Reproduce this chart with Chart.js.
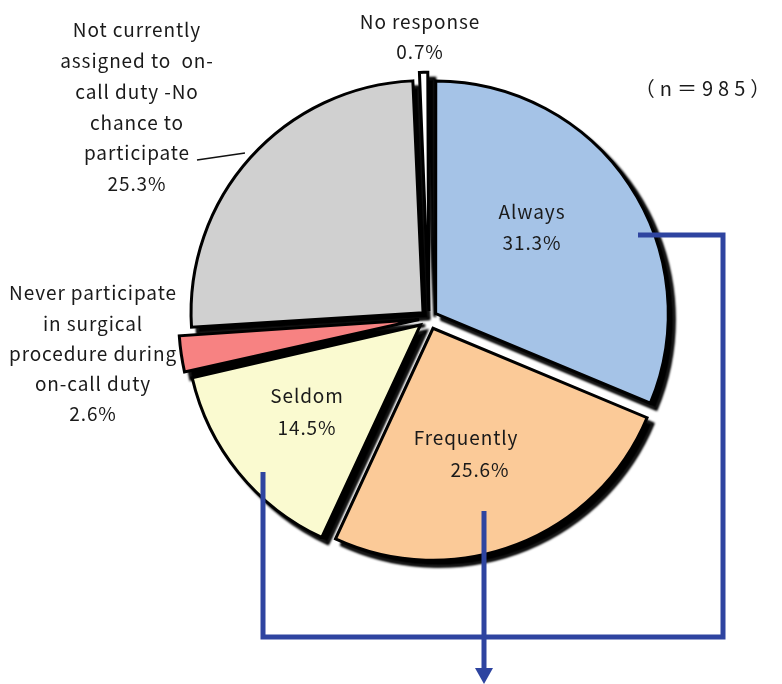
<!DOCTYPE html>
<html>
<head>
<meta charset="utf-8">
<script src="https://cdn.jsdelivr.net/npm/chart.js@4.4.1/dist/chart.umd.min.js"></script>
<style>
  html, body { margin: 0; padding: 0; background: #fff; }
  #wrap { width: 782px; height: 684px; position: relative; }
</style>
</head>
<body>
<div id="wrap"><canvas id="pieChart" width="782" height="684"></canvas></div>
<script>
// survey answers, share of respondents (%), clockwise from 12 o'clock
const categories = [
  'Always',
  'Frequently',
  'Seldom',
  'Never participate in surgical procedure during on-call duty',
  'Not currently assigned to on-call duty -No chance to participate',
  'No response'
];
const percents = [31.3, 25.6, 14.5, 2.6, 25.3, 0.7];
const sampleSize = 985;

const FONT = '"Noto Sans CJK JP", "Noto Sans", sans-serif';
const LINE_BLUE = '#2e44a0';

// black drop shadow under every slice, drawn before the slices
const shadowPlugin = {
  id: 'sliceShadow',
  beforeDatasetsDraw(chart) {
    const ctx = chart.ctx;
    const arcs = chart.getDatasetMeta(0).data;
    ctx.save();
    ctx.fillStyle = '#000';
    ctx.strokeStyle = '#000';
    ctx.lineWidth = 3;
    ctx.lineJoin = 'miter';
    ctx.filter = 'blur(1px)';
    arcs.forEach(a => {
      const p = a.getProps(['x', 'y', 'startAngle', 'endAngle', 'outerRadius'], true);
      const off = (a.options.offset || 0) / 4;
      const half = (p.startAngle + p.endAngle) / 2;
      const circ = p.endAngle - p.startAngle;
      const r = p.outerRadius + off * (1 - Math.sin(Math.min(Math.PI, circ)));
      const x = p.x + Math.cos(half) * off + 6;
      const y = p.y + Math.sin(half) * off + 6;
      ctx.beginPath();
      ctx.moveTo(x, y);
      ctx.arc(x, y, r, p.startAngle, p.endAngle);
      ctx.closePath();
      ctx.fill();
      ctx.stroke();
    });
    ctx.restore();
  }
};

// bracket lines + labels
const labelPlugin = {
  id: 'sliceLabels',
  afterDatasetsDraw(chart) {
    const ctx = chart.ctx;
    const pct = i => percents[i].toFixed(1) + '%';

    // connector from Always and Seldom, arrow from Frequently
    ctx.save();
    ctx.strokeStyle = LINE_BLUE;
    ctx.fillStyle = LINE_BLUE;
    ctx.lineWidth = 5;
    ctx.lineJoin = 'miter';
    ctx.lineCap = 'butt';
    ctx.beginPath();
    ctx.moveTo(638, 235);
    ctx.lineTo(723, 235);
    ctx.lineTo(723, 637);
    ctx.lineTo(263, 637);
    ctx.lineTo(263, 472);
    ctx.stroke();
    ctx.beginPath();
    ctx.moveTo(484, 511);
    ctx.lineTo(484, 670);
    ctx.stroke();
    ctx.beginPath();
    ctx.moveTo(475, 668);
    ctx.lineTo(493, 668);
    ctx.lineTo(484, 684);
    ctx.closePath();
    ctx.fill();

    // leader line for the grey slice
    ctx.strokeStyle = '#111';
    ctx.lineWidth = 1.5;
    ctx.beginPath();
    ctx.moveTo(197, 160);
    ctx.lineTo(245, 153);
    ctx.stroke();
    ctx.restore();

    ctx.save();
    ctx.fillStyle = '#1a1a1a';
    ctx.font = '19px ' + FONT;
    ctx.letterSpacing = '0.9px';
    ctx.textAlign = 'center';
    ctx.textBaseline = 'middle';
    const block = (lines, x, y0, step) => lines.forEach((t, k) => ctx.fillText(t, x, y0 + k * step));

    block([categories[0], pct(0)], 532, 212, 31);
    ctx.fillText(categories[1], 466, 438);
    ctx.fillText(pct(1), 480, 470);
    block([categories[2], pct(2)], 307, 396, 32);
    block(['Never participate', 'in surgical', 'procedure during', 'on-call duty', pct(3)], 93, 293, 30.3);
    block(['Not currently', 'assigned to  on-', 'call duty -No', 'chance to', 'participate', pct(4)], 137, 30, 30.8);
    block([categories[5], pct(5)], 420, 22, 30);

    ctx.font = '20px ' + FONT;
    ctx.letterSpacing = '5px';
    ctx.fillText('（n＝' + sampleSize + '）', 705, 88);
    ctx.restore();
  }
};

const ctx = document.getElementById('pieChart').getContext('2d');
new Chart(ctx, {
  type: 'pie',
  data: {
    labels: categories,
    datasets: [{
      data: percents,
      backgroundColor: ['#a5c3e7', '#fbca98', '#fafad0', '#f78282', '#d0d0d0', '#ffffff'],
      borderColor: '#000',
      borderWidth: 3,
      borderJoinStyle: 'miter',
      offset: [32, 44, 44, 40, 32, 28]
    }]
  },
  options: {
    responsive: false,
    animation: false,
    radius: 232,
    layout: { padding: { left: 76, right: 0, top: 0, bottom: 48 } },
    plugins: {
      legend: { display: false },
      tooltip: { enabled: false }
    }
  },
  plugins: [shadowPlugin, labelPlugin]
});
</script>
</body>
</html>
